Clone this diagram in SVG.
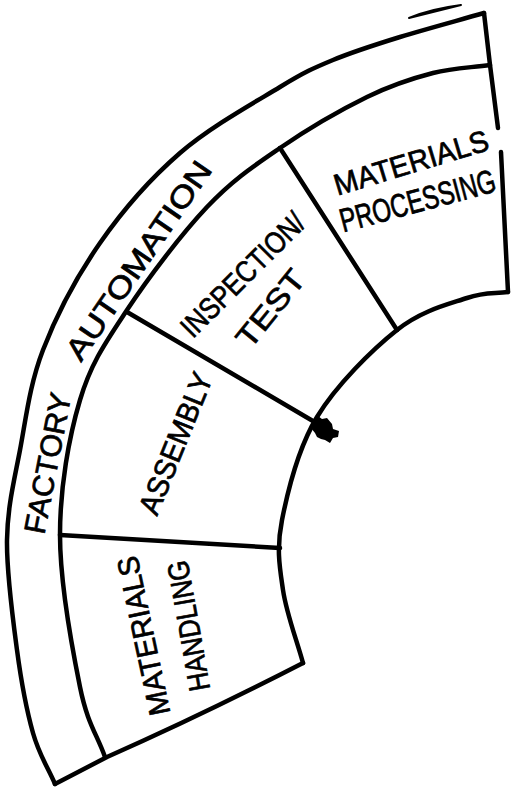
<svg xmlns="http://www.w3.org/2000/svg" width="511" height="788" viewBox="0 0 511 788">
<style>
.ln{fill:none;stroke:#000;stroke-width:4.5;stroke-linecap:round;stroke-linejoin:round}
.lb{font-family:"Liberation Sans",Arial,sans-serif;font-size:30px;fill:#000;stroke:#000;stroke-width:0.7;text-anchor:middle}
</style>
<rect width="511" height="788" fill="#fff"/>
<g id="outline">
<path class="ln" d="M55,784 C47.7,767 39.3,755.3 33,733 C26.7,710.7 21.3,682.2 17,650 C12.7,617.8 6.5,573.3 7,540 C7.5,506.7 14,481.7 20,450 C26,418.3 29.7,384.5 43,350 C56.3,315.5 77.2,275.8 100,243 C122.8,210.2 150,179 180,153 C210,127 254.5,102.5 280,87 C305.5,71.5 313,68.3 333,60 C353,51.7 374.8,44.8 400,37 C425.2,29.2 456,21 484,13"/>
<path class="ln" d="M105,757 C96.7,733.7 87.5,724 80,687 C72.5,650 60,582.8 60,535 C60,487.2 68.8,437.5 80,400 C91.2,362.5 105.8,342.2 127,310 C148.2,277.8 181.5,234 207,207 C232.5,180 253.3,166.3 280,148 C306.7,129.7 341.5,109.5 367,97 C392.5,84.5 412.5,78.3 433,73 C453.5,67.7 471,67.7 490,65"/>
<path class="ln" d="M303,663 C296.3,638.7 286.5,613.8 283,590 C279.5,566.2 276.3,548.8 282,520 C287.7,491.2 297.8,448.7 317,417 C336.2,385.3 372,349.8 397,330 C422,310.2 448.5,304.3 467,298 C485.5,291.7 494.3,294 508,292"/>
<path class="ln" d="M484,13 L490,65 L498,128"/>
<path class="ln" d="M501,152 L508,292"/>
<path class="ln" d="M55,784 L107,757 Q200,716 303,663"/>
<path class="ln" d="M60,535 L280,548"/>
<path class="ln" d="M127,312 L318,424"/>
<path class="ln" d="M280,148 L397,330"/>
<path d="M409,18 Q430,9 461,5 Q433,12 409,18 Z" fill="#000" stroke="#000" stroke-width="2" stroke-linejoin="round"/>
<path d="M313,421 L318,416 L322,419 L327,418 L332,424 L333,429 L339,431 L338,437 L333,438 L330,443 L325,440 L321,439 L317,437 L315,433 L311,428 Z" fill="#000"/>
</g>
<g id="factory-automation">
<text class="lb" transform="translate(47,463) rotate(-79)" y="11" font-size="32" textLength="143" lengthAdjust="spacingAndGlyphs">FACTORY</text>
<text class="lb" transform="translate(138,260) rotate(-55.6)" y="11" font-size="32" textLength="234" lengthAdjust="spacingAndGlyphs">AUTOMATION</text>
</g>
<g id="materials-processing">
<text class="lb" transform="translate(411,162) rotate(-16.8)" y="11" textLength="160" lengthAdjust="spacingAndGlyphs">MATERIALS</text>
<text class="lb" transform="translate(418,202) rotate(-15) scale(0.8,1.1)" y="9" font-size="25">PROCESSING</text>
</g>
<g id="inspection-test">
<text class="lb" transform="translate(243,275) rotate(-45)" y="10" font-size="28" textLength="162" lengthAdjust="spacingAndGlyphs">INSPECTION/</text>
<text class="lb" transform="translate(270,308) rotate(-51)" y="11" font-size="32" textLength="91" lengthAdjust="spacingAndGlyphs">TEST</text>
</g>
<g id="assembly">
<text class="lb" transform="translate(175,443) rotate(-68)" y="11" textLength="150" lengthAdjust="spacingAndGlyphs">ASSEMBLY</text>
</g>
<g id="materials-handling">
<text class="lb" transform="translate(143,636) rotate(-102)" y="11" textLength="162" lengthAdjust="spacingAndGlyphs">MATERIALS</text>
<text class="lb" transform="translate(188,626) rotate(-100)" y="11" textLength="132" lengthAdjust="spacingAndGlyphs">HANDLING</text>
</g>
</svg>
